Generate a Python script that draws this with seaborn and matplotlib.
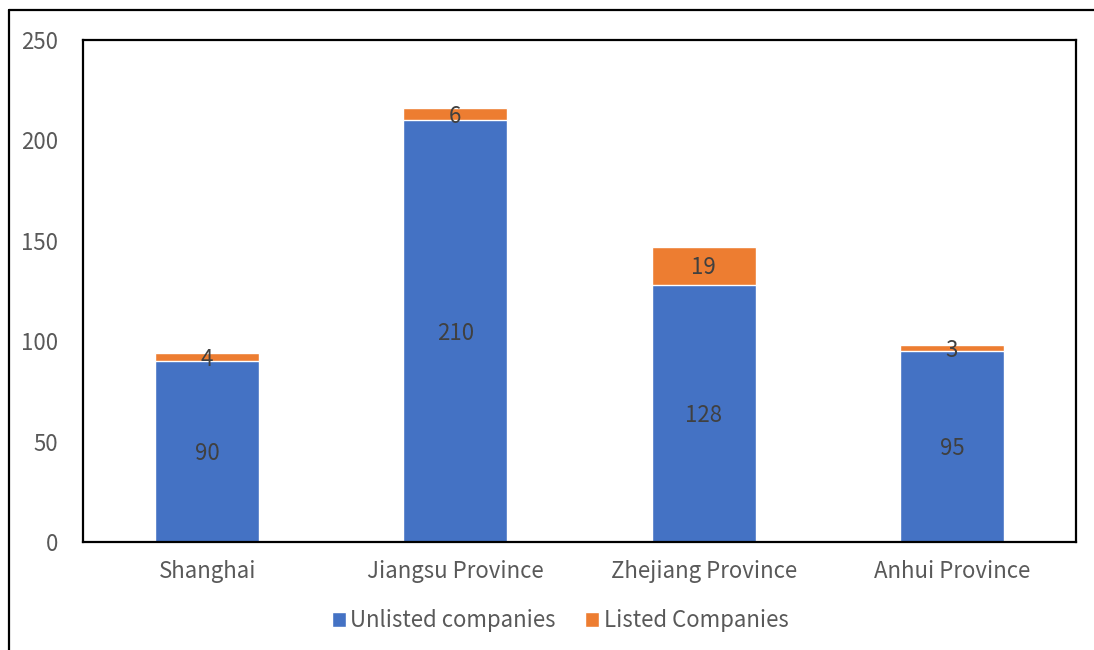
import matplotlib
matplotlib.use("Agg")
import matplotlib.pyplot as plt
from matplotlib.lines import Line2D
from matplotlib.patches import Patch
import seaborn as sns
import pandas as pd

categories = ["Shanghai", "Jiangsu Province", "Zhejiang Province", "Anhui Province"]
unlisted = [90, 210, 128, 95]
listed = [4, 6, 19, 3]
yticks = [0, 50, 100, 150, 200, 250]

sns.set_theme(style="white")
plt.rcParams['font.family'] = ['Noto Sans CJK SC', 'DejaVu Sans']
plt.rcParams['font.weight'] = 'light'

BLUE = "#4472C4"
ORANGE = "#ED7D31"
TICK_C = "#595959"
LAB_C = "#404040"
FS = 16

totals = [u + l for u, l in zip(unlisted, listed)]
df = pd.DataFrame({"cat": categories, "unlisted": unlisted, "listed": listed, "total": totals})

fig = plt.figure(figsize=(10.94, 6.5), dpi=100)
ax = fig.add_axes([83/1094, 1-542/650, (1076-83)/1094, (542-40)/650])

bw = 104/248
sns.barplot(data=df, x="cat", y="total", color=ORANGE, width=bw, ax=ax, saturation=1)
sns.barplot(data=df, x="cat", y="unlisted", color=BLUE, width=bw, ax=ax, saturation=1)

ax.set_xlim(-0.5, 3.5)
ax.set_ylim(0, 250)
ax.set_yticks(yticks)
ax.set_xlabel("")
ax.set_ylabel("")
ax.tick_params(axis="both", length=0, labelsize=FS, colors=TICK_C)
ax.tick_params(axis="y", pad=18)
ax.tick_params(axis="x", pad=13)
for s in ax.spines.values():
    s.set_visible(True)
    s.set_color("black")
    s.set_linewidth(1.6)

for i, (u, l) in enumerate(zip(unlisted, listed)):
    ax.text(i, u / 2 - 1, str(u), ha="center", va="center", fontsize=FS, color=LAB_C)
    ax.text(i, u + l / 2 - 1, str(l), ha="center", va="center", fontsize=FS, color=LAB_C)

handles = [Patch(facecolor=BLUE, label="Unlisted companies"),
           Patch(facecolor=ORANGE, label="Listed Companies")]
leg = fig.legend(handles=handles, loc="center", bbox_to_anchor=(560/1094, 1-621/650),
                 ncol=2, frameon=False, fontsize=FS, handlelength=0.65, handleheight=0.65,
                 handletextpad=0.2, columnspacing=1.3)
for t in leg.get_texts():
    t.set_color(TICK_C)

# outer figure border (left and top visible)
fig.add_artist(Line2D([9/1094, 9/1094], [0, 1-10/650], transform=fig.transFigure, color="black", lw=1.6))
fig.add_artist(Line2D([9/1094, 1], [1-10/650, 1-10/650], transform=fig.transFigure, color="black", lw=1.6))

fig.savefig("out.png", dpi=100)
